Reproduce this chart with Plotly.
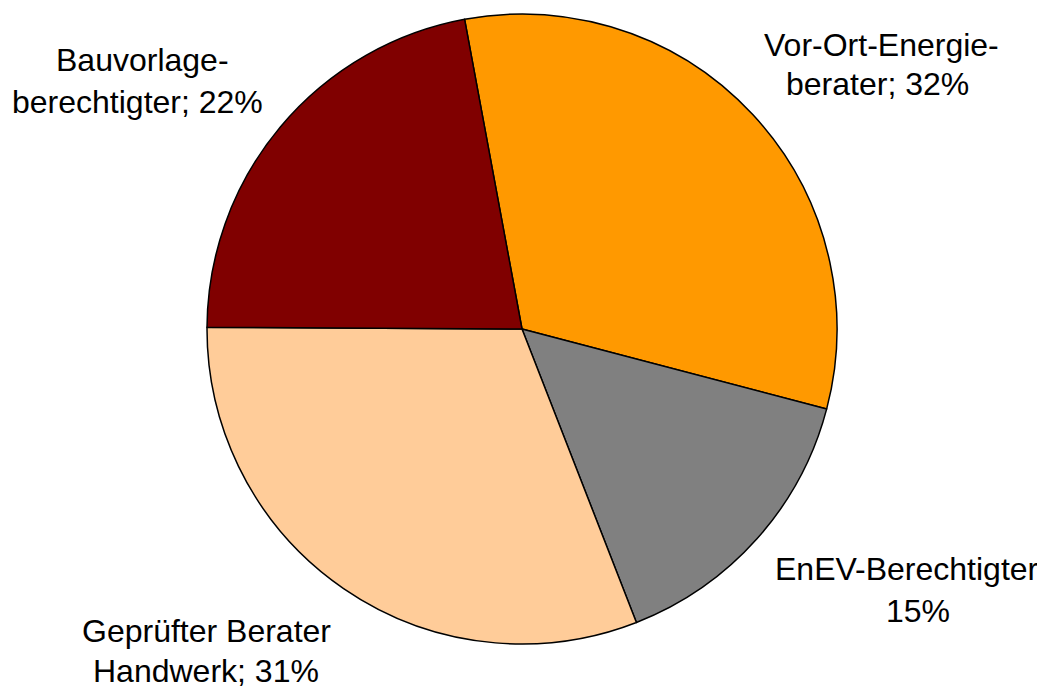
import plotly.graph_objects as go

labels = ["Vor-Ort-Energieberater", "EnEV-Berechtigter", "Geprüfter Berater Handwerk", "Bauvorlageberechtigter"]
values = [32, 15, 31, 22]
colors = ["#FF9900", "#808080", "#FFCC99", "#800000"]
# one entry per text line: (text, x center, baseline y) in page pixels
label_lines = [
    ("Vor-Ort-Energie-", 881, 56), ("berater; 32%", 877, 95),
    ("EnEV-Berechtigter", 907, 580), ("15%", 918, 622),
    ("Geprüfter Berater", 206, 642), ("Handwerk; 31%", 206, 682),
    ("Bauvorlage-", 142, 71), ("berechtigter; 22%", 137, 113),
]

OFF = 8  # default page body margin
W, H = 1045 - OFF, 690 - OFF
ML, MR, MT, MB = 0, 9, 6, 46
PW, PH = W - ML - MR, H - MT - MB
FS = 32

fig = go.Figure(go.Pie(
    labels=labels, values=values, sort=False, direction="clockwise",
    rotation=-10.5, textinfo="none", hoverinfo="label+percent",
    marker=dict(colors=colors, line=dict(color="black", width=1.5)),
    showlegend=False,
))

for t, x, yb in label_lines:
    xc = x - OFF
    yc = yb - 0.35 * FS - OFF
    fig.add_annotation(text=t, x=(xc - ML) / PW, y=1 - (yc - MT) / PH,
                       xref="paper", yref="paper",
                       showarrow=False, xanchor="center", yanchor="middle",
                       font=dict(family="Liberation Sans, Arial, sans-serif", size=FS, color="black"))

fig.update_layout(width=W, height=H, margin=dict(l=ML, r=MR, t=MT, b=MB),
                  paper_bgcolor="white", plot_bgcolor="white")
fig.write_html("out.html")
